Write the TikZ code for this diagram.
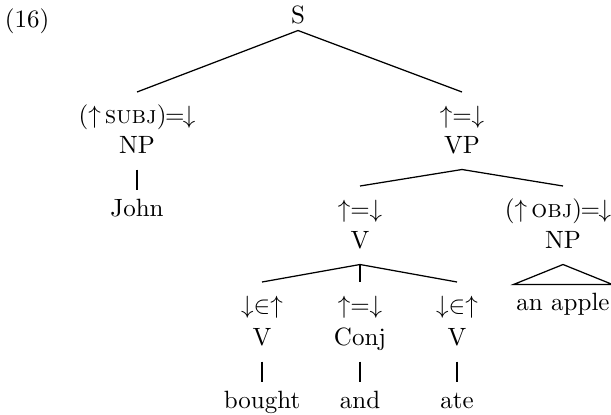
\documentclass[tikz,border=0pt]{standalone}
\usepackage{tikz}
\tikzstyle{tann}=[anchor=base, text height=7.5pt, text depth=0pt, inner xsep=1pt, inner ysep=4.7pt]
\tikzstyle{tcat}=[anchor=base, text height=7pt, text depth=0pt, inner xsep=1pt, inner ysep=6.4pt]
\tikzstyle{tleaf}=[anchor=base, text height=7pt, text depth=0pt, inner xsep=1pt, inner ysep=3.4pt]
\tikzstyle{branch}=[draw, line width=0.5pt]
\newcommand{\fseq}{\kern-0.6pt=\kern-0.6pt}

\begin{document}
\begin{tikzpicture}[x=0.4pt, y=-0.4pt]
\useasboundingbox (0,0) rectangle (611,414);
\node [anchor=base] (ex) at (27,27) {(16)};
\node [tcat, inner ysep=2.8pt] (s) at (298,23) {S};

\node [tann] (subj) at (137,123) {($\uparrow$\,\textsc{subj})\fseq$\downarrow$};
\node [tcat] (np1) at (137,153) {NP};
\node [tleaf] (john) at (137,216) {John};

\node [tann] (vpann) at (462,123) {$\uparrow=\downarrow$};
\node [tcat] (vp) at (462,153) {VP};

\node [tann] (vann) at (360,217) {$\uparrow=\downarrow$};
\node [tcat] (v) at (360,248) {V};
\node [tann] (obj) at (558,217) {($\uparrow$\,\textsc{obj})\fseq$\downarrow$};
\node [tcat] (np2) at (563,248) {NP};
\node [tleaf, inner ysep=3pt] (apple) at (563,310) {an apple};

\node [tann] (ann1) at (262,313) {$\downarrow\in\uparrow$};
\node [tcat] (v1) at (262,345) {V};
\node [tleaf] (bought) at (262,408) {bought};
\node [tann] (ann2) at (360,313) {$\uparrow=\downarrow$};
\node [tcat] (conj) at (360,345) {Conj};
\node [tleaf] (and) at (360,408) {and};
\node [tann] (ann3) at (457,313) {$\downarrow\in\uparrow$};
\node [tcat] (v2) at (457,345) {V};
\node [tleaf] (ate) at (457,408) {ate};

\draw[branch] (s.south) -- (subj.north);
\draw[branch] (s.south) -- (vpann.north);
\draw[branch] (np1.south) -- (john.north);
\draw[branch] (vp.south) -- (vann.north);
\draw[branch] (vp.south) -- (obj.north -| np2);
\draw[branch] (v.south) -- (ann1.north);
\draw[branch] (v.south) -- (ann2.north);
\draw[branch] (v.south) -- (ann3.north);
\draw[branch] (np2.south) -- (apple.north west) -- (apple.north east) -- cycle;
\draw[branch] (v1.south) -- (bought.north);
\draw[branch] (conj.south) -- (and.north);
\draw[branch] (v2.south) -- (ate.north);
\end{tikzpicture}
\end{document}
